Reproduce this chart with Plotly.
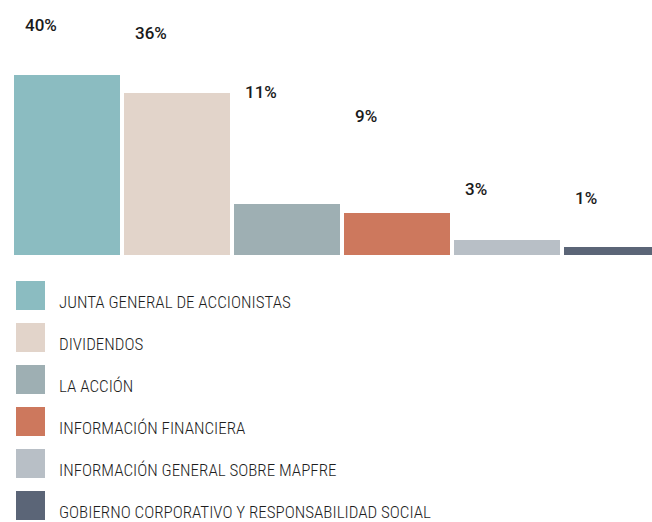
import plotly.graph_objects as go

categories = [
    "JUNTA GENERAL DE ACCIONISTAS",
    "DIVIDENDOS",
    "LA ACCIÓN",
    "INFORMACIÓN FINANCIERA",
    "INFORMACIÓN GENERAL SOBRE MAPFRE",
    "GOBIERNO CORPORATIVO Y RESPONSABILIDAD SOCIAL",
]
values = [40, 36, 11.3, 9.3, 3.3, 1.8]
value_labels = ["40%", "36%", "11%", "9%", "3%", "1%"]

colors = ["#8bbcc1", "#e2d4ca", "#9eafb3", "#cd785d", "#b8bfc6", "#5b6577"]

W, H = 652, 522
PLOT_BOTTOM = 255  # pixel y of baseline (plot area spans 0..255)
PX_PER_UNIT = 4.5
PITCH = 110.0
X0_PX = 67.0

def py(p):
    return 1 - p / PLOT_BOTTOM

def px(p):
    return p / W

fig = go.Figure()
xs = list(range(len(values)))
fig.add_trace(go.Bar(
    x=xs, y=values,
    marker=dict(color=colors, line=dict(width=0)),
    width=106 / PITCH,
    showlegend=False,
    hoverinfo="skip",
))

# value labels (positions as in the reference)
label_y_px = [25.5, 33, 91.5, 116.5, 188.5, 197.5]
for i, (lab, ypx) in enumerate(zip(value_labels, label_y_px)):
    fig.add_annotation(
        x=xs[i] - 53 / PITCH + 9 / PITCH, xref="x", xanchor="left",
        y=py(ypx), yref="paper", yanchor="middle",
        text=lab, showarrow=False,
        font=dict(family="Roboto, Liberation Sans, Arial, sans-serif", size=17,
                  color="#1a1a1a", weight=500),
    )

# custom legend
for i, (cat, col) in enumerate(zip(categories, colors)):
    top = 281 + 42 * i
    fig.add_shape(type="rect", xref="paper", yref="paper",
                  x0=px(16), x1=px(45), y0=py(top), y1=py(top + 29),
                  fillcolor=col, line=dict(width=0))
    fig.add_annotation(
        x=px(57), xref="paper", xanchor="left",
        y=py(top + 21), yref="paper", yanchor="middle",
        text=cat, showarrow=False,
        font=dict(family="Liberation Sans Narrow, Roboto Condensed, DejaVu Sans Condensed, sans-serif",
                  size=17, color="#1e1e1e", weight=300),
    )

xr0 = -X0_PX / PITCH
xr1 = (W - X0_PX) / PITCH
fig.update_layout(
    width=W, height=H,
    margin=dict(l=0, r=0, t=0, b=H - PLOT_BOTTOM, pad=0),
    paper_bgcolor="white", plot_bgcolor="white",
    xaxis=dict(range=[xr0, xr1], visible=False, fixedrange=True),
    yaxis=dict(range=[0, PLOT_BOTTOM / PX_PER_UNIT], visible=False, fixedrange=True),
    bargap=0,
)
fig.write_html("out.html", config={"displayModeBar": False},
               post_script="document.body.style.margin='0';document.body.style.overflow='hidden';")
